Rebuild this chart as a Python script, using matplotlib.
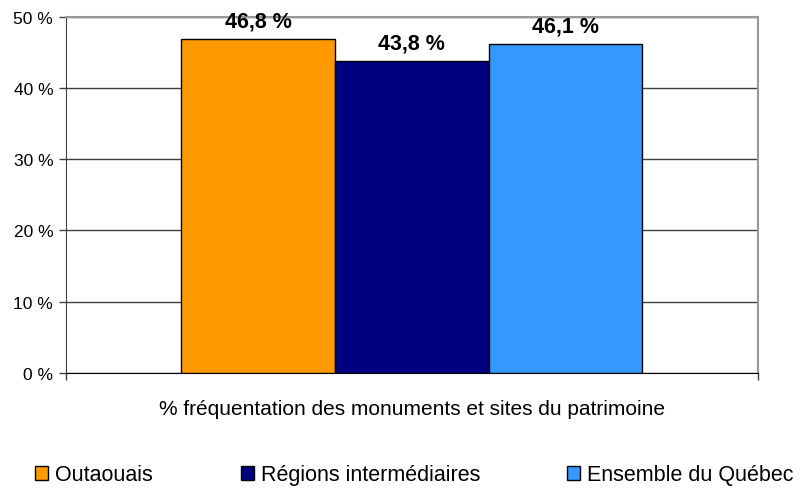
import numpy as np
import matplotlib.pyplot as plt
from matplotlib.patches import Patch

plt.rcParams['font.family'] = ['Liberation Sans', 'DejaVu Sans']

# data
series = ['Outaouais', 'Régions intermédiaires', 'Ensemble du Québec']
values = [46.8, 43.8, 46.1]
colors = ['#FF9900', '#000080', '#3399FF']
labels = ['46,8 %', '43,8 %', '46,1 %']
yticks = [0, 10, 20, 30, 40, 50]

fig = plt.figure(figsize=(8.01, 4.89), dpi=100)
ax = fig.add_axes([65.7/801, 1-374/489, 692/801, 356.5/489])

w = 0.222
xs = np.array([-1, 0, 1]) * w
for x, v, c, lab in zip(xs, values, colors, labels):
    ax.bar(x, v, width=w, color=c, edgecolor='black', linewidth=1.0, zorder=3)
    ax.annotate(lab, (x, v), xytext=(0, 9), textcoords='offset points',
                ha='center', va='baseline', fontsize=15.5, fontweight='bold')

ax.set_xlim(-0.5, 0.5)
ax.set_ylim(0, 50)
ax.set_yticks(yticks)
ax.set_yticklabels([f'{t} %' for t in yticks], fontsize=12.5)
ax.yaxis.grid(True, color='#404040', linewidth=1.0, zorder=0)
ax.set_xticks([-0.5, 0.5])
ax.set_xticklabels(['', ''])
ax.tick_params(axis='x', length=5, width=1, color='#404040')
ax.tick_params(axis='y', length=5, width=1, color='#404040', pad=4)
ax.spines['top'].set_color('#999999')
ax.spines['right'].set_color('#999999')
ax.spines['top'].set_linewidth(1.5)
ax.spines['right'].set_linewidth(1.5)
ax.spines['left'].set_color('#404040')
ax.spines['bottom'].set_color('black')
ax.set_xlabel('% fréquentation des monuments et sites du patrimoine', fontsize=15, labelpad=10)

# legend entries, one per series
legend_x = [35, 241, 567]
for s, c, lx in zip(series, colors, legend_x):
    h = Patch(facecolor=c, edgecolor='black', linewidth=1.0)
    fig.legend([h], [s], loc='center left', bbox_to_anchor=(lx/801, 1-476/489),
               frameon=False, fontsize=15.5, handlelength=0.6, handleheight=0.6,
               handletextpad=0.33, borderpad=0, borderaxespad=0)

fig.savefig('out.png', dpi=100)
